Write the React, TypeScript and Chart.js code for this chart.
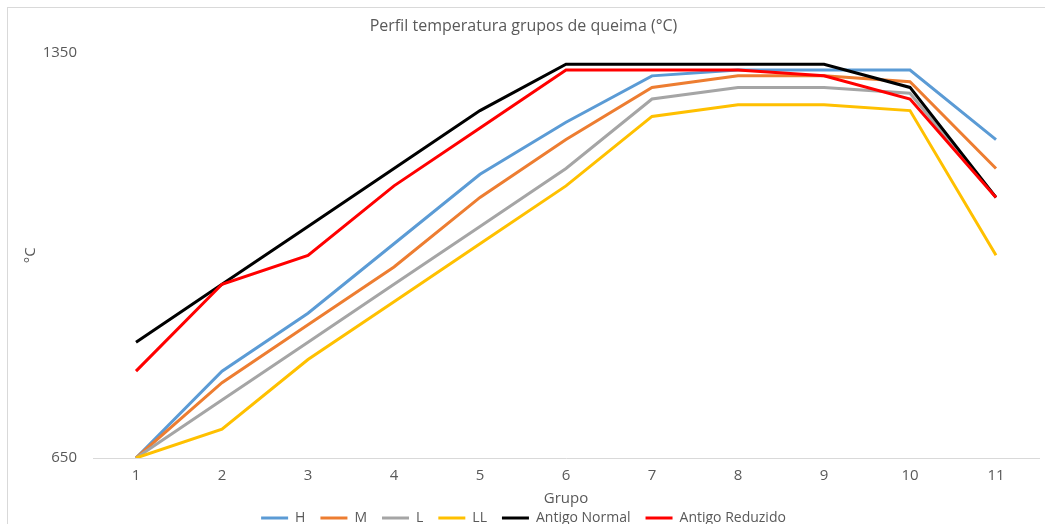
import React, { useEffect, useRef } from "react";
import { Chart, registerables } from "chart.js";

Chart.register(...registerables);

const categories = ["1", "2", "3", "4", "5", "6", "7", "8", "9", "10", "11"];
const seriesH = [650, 800, 900, 1020, 1140, 1230, 1310, 1320, 1320, 1320, 1200];
const seriesM = [650, 780, 880, 980, 1100, 1200, 1290, 1310, 1310, 1300, 1150];
const seriesL = [650, 750, 850, 950, 1050, 1150, 1270, 1290, 1290, 1280, 1100];
const seriesLL = [650, 700, 820, 920, 1020, 1120, 1240, 1260, 1260, 1250, 1000];
const seriesAntigoNormal = [850, 950, 1050, 1150, 1250, 1330, 1330, 1330, 1330, 1290, 1100];
const seriesAntigoReduzido = [800, 950, 1000, 1120, 1220, 1320, 1320, 1320, 1310, 1270, 1100];
const yTicks = [650, 1350];

const FONT = "'Open Sans', sans-serif";
const TEXT = "#595959";

export default function App() {
  const ref = useRef<HTMLCanvasElement | null>(null);

  useEffect(() => {
    if (!ref.current) return;
    const mk = (label: string, data: number[], color: string, order: number) => ({
      label,
      data,
      borderColor: color,
      backgroundColor: color,
      borderWidth: 3,
      pointRadius: 0,
      pointHoverRadius: 0,
      tension: 0,
      fill: false,
      order,
    });
    const chart = new Chart(ref.current, {
      type: "line",
      data: {
        labels: categories,
        datasets: [
          mk("H", seriesH, "#5B9BD5", 6),
          mk("M", seriesM, "#ED7D31", 5),
          mk("L", seriesL, "#A5A5A5", 4),
          mk("LL", seriesLL, "#FFC000", 3),
          mk("Antigo Normal", seriesAntigoNormal, "#000000", 2),
          mk("Antigo Reduzido", seriesAntigoReduzido, "#FF0000", 1),
        ],
      },
      options: {
        responsive: false,
        animation: false,
        layout: { padding: { left: 0, right: 6, top: 0, bottom: 0 } },
        plugins: {
          title: {
            display: true,
            text: "Perfil temperatura grupos de queima (°C)",
            color: TEXT,
            font: { family: FONT, size: 16, weight: "normal" },
            padding: { top: 9, bottom: 16.5 },
          },
          legend: {
            position: "bottom",
            labels: {
              color: TEXT,
              font: { family: FONT, size: 14 },
              boxWidth: 27,
              boxHeight: 3,
              padding: 15,
              sort: (a: any, b: any) => a.datasetIndex - b.datasetIndex,
              generateLabels: (c: any) =>
                Chart.defaults.plugins.legend.labels
                  .generateLabels(c)
                  .map((l: any) => ({ ...l, lineWidth: 0 })),
            },
          },
          tooltip: { enabled: false },
        },
        scales: {
          x: {
            type: "category",
            offset: true,
            grid: { display: false, drawTicks: false },
            border: { display: true, color: "#D9D9D9", width: 1 },
            ticks: { color: TEXT, font: { family: FONT, size: 15 }, padding: 9, maxRotation: 0 },
            title: {
              display: true,
              text: "Grupo",
              color: TEXT,
              font: { family: FONT, size: 15 },
              padding: { top: 0, bottom: -12 },
            },
            afterFit: (s: any) => {
              s.height = 38;
            },
          },
          y: {
            min: 650,
            max: 1350,
            grid: { display: false, drawTicks: false },
            border: { display: false },
            afterBuildTicks: (s: any) => {
              s.ticks = yTicks.map((v) => ({ value: v }));
            },
            ticks: {
              color: TEXT,
              font: { family: FONT, size: 15 },
              padding: 16,
              callback: (v: any) => String(v),
            },
            title: {
              display: true,
              text: "°C",
              color: TEXT,
              font: { family: FONT, size: 15 },
              padding: { top: 14, bottom: 0 },
            },
            afterFit: (s: any) => {
              s.width = 85;
            },
          },
        },
      },
    });
    return () => chart.destroy();
  }, []);

  return (
    <div
      style={{
        position: "fixed",
        left: 7,
        top: 7,
        width: 1037,
        height: 516,
        borderLeft: "1px solid #D9D9D9",
        borderTop: "1px solid #D9D9D9",
        overflow: "hidden",
        background: "#fff",
      }}
    >
      <canvas ref={ref} width={1037} height={527} style={{ display: "block" }} />
    </div>
  );
}
